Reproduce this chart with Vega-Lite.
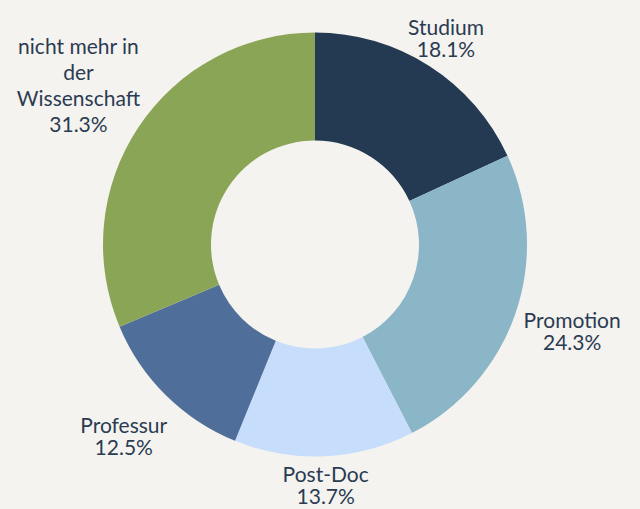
{
  "$schema": "https://vega.github.io/schema/vega-lite/v6.json",
  "width": 630,
  "height": 489,
  "padding": {"left": 0, "top": 0, "right": 10, "bottom": 20},
  "autosize": {"type": "none"},
  "background": "#f5f3ef",
  "view": {"stroke": null},
  "data": {
    "values": [
      {"rank": 1, "kategorie": "Studium", "label": ["Studium", "18.1%"], "anteil": 18.1},
      {"rank": 2, "kategorie": "Promotion", "label": ["Promotion", "24.3%"], "anteil": 24.3},
      {"rank": 3, "kategorie": "Post-Doc", "label": ["Post-Doc", "13.7%"], "anteil": 13.7},
      {"rank": 4, "kategorie": "Professur", "label": ["Professur", "12.5%"], "anteil": 12.5},
      {"rank": 5, "kategorie": "nicht mehr in der Wissenschaft", "label": ["nicht mehr in", "der", "Wissenschaft", "31.3%"], "anteil": 31.3}
    ]
  },
  "encoding": {
    "theta": {"field": "anteil", "type": "quantitative", "stack": true},
    "order": {"field": "rank", "type": "quantitative"}
  },
  "layer": [
    {
      "mark": {"type": "arc", "outerRadius": 212, "innerRadius": 104},
      "encoding": {
        "color": {
          "field": "kategorie",
          "type": "nominal",
          "scale": {
            "domain": ["Studium", "Promotion", "Post-Doc", "Professur", "nicht mehr in der Wissenschaft"],
            "range": ["#233a52", "#8ab6c8", "#c6ddfb", "#4f6e9a", "#8ba557"]
          },
          "legend": null
        }
      }
    },
    {
      "mark": {
        "type": "text",
        "radius": {"expr": "datum.rank == 5 ? 284 : ((datum.rank == 2 || datum.rank == 4) ? 272 : 243)"},
        "lineHeight": {"expr": "datum.rank == 5 ? 26 : 22"},
        "dy": {"expr": "datum.rank == 5 ? -39 : -11"},
        "font": "Lato", "fontSize": 21, "color": "#2a3b52", "align": "center", "baseline": "middle"
      },
      "encoding": {"text": {"field": "label"}}
    }
  ]
}
